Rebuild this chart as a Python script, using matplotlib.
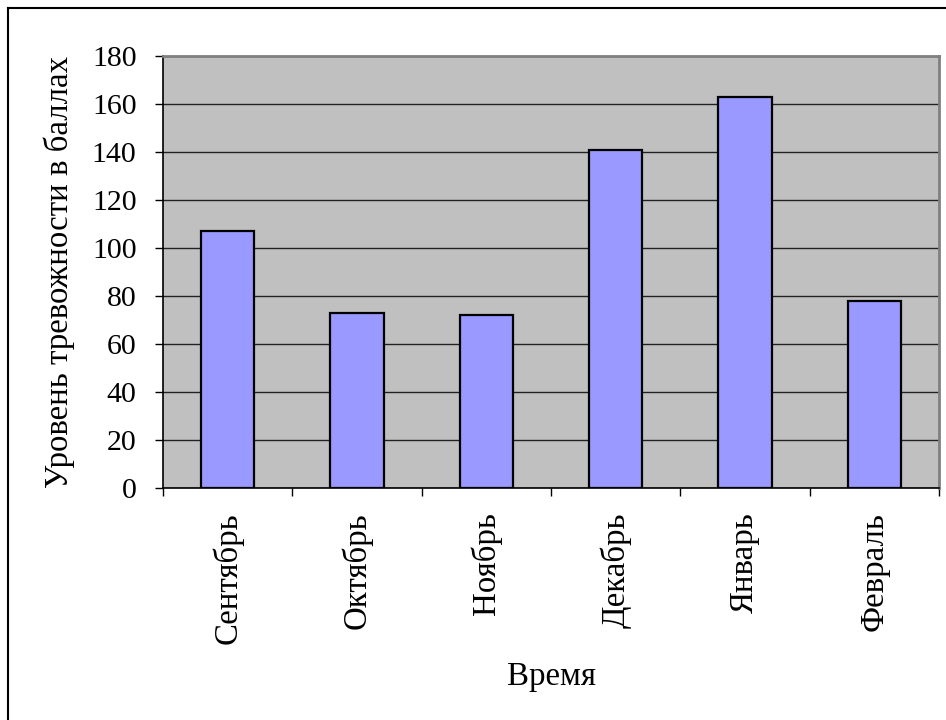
import matplotlib
matplotlib.use("Agg")
import matplotlib.pyplot as plt
from matplotlib.lines import Line2D
import numpy as np

months = ["Сентябрь", "Октябрь", "Ноябрь", "Декабрь", "Январь", "Февраль"]
anxiety = [107, 73, 72, 141, 163, 78]
y_ticks = [0, 20, 40, 60, 80, 100, 120, 140, 160, 180]
x_title = "Время"
y_title = "Уровень тревожности в баллах"

plt.rcParams["font.family"] = ["Liberation Serif", "DejaVu Serif"]
FS_NUM = 21.5   # numeric tick labels
FS_TXT = 23.7   # word labels and axis titles

fig = plt.figure(figsize=(9.46, 7.2), dpi=100)
W, H = 946, 720
ax = fig.add_axes([163 / W, 1 - 488 / H, (939 - 163) / W, (488 - 56) / H])

ax.set_facecolor("#C0C0C0")
x = np.arange(len(months))
ax.bar(x, anxiety, width=0.41, color="#9999FF", edgecolor="black",
       linewidth=1.6, zorder=3)

ax.set_xlim(-0.5, len(months) - 0.5)
ax.set_ylim(y_ticks[0], y_ticks[-1])
ax.set_yticks(y_ticks)
ax.set_yticklabels([str(v) for v in y_ticks], fontsize=FS_NUM)

# category labels centred under the bars, ticks on category boundaries
ax.set_xticks(np.arange(len(months) + 1) - 0.5)
ax.set_xticklabels([])
ax.set_xticks(x, minor=True)
ax.set_xticklabels(months, minor=True, rotation=90, fontsize=FS_TXT)
ax.tick_params(axis="x", which="minor", length=0, pad=17.5)
ax.tick_params(axis="x", which="major", length=6, width=1, direction="out")
ax.tick_params(axis="y", length=6, width=1, direction="out", pad=13)

ax.grid(axis="y", color="#222222", linewidth=1.0, zorder=1)
ax.set_axisbelow(True)

for side in ("top", "right"):
    ax.spines[side].set_color("#808080")
    ax.spines[side].set_linewidth(2)
for side in ("left", "bottom"):
    ax.spines[side].set_color("black")
    ax.spines[side].set_linewidth(1.2)

ax.set_ylabel(y_title, fontsize=FS_TXT, labelpad=12)
fig.text(551 / W, 1 - 677 / H, x_title, fontsize=FS_TXT, ha="center", va="center")

# chart frame (top and left edges)
fig.add_artist(Line2D([8 / W, 1.0], [1 - 8 / H, 1 - 8 / H], color="black",
                      linewidth=1.5, transform=fig.transFigure))
fig.add_artist(Line2D([8 / W, 8 / W], [0.0, 1 - 8 / H], color="black",
                      linewidth=1.5, transform=fig.transFigure))

fig.savefig("out.png", dpi=100)
